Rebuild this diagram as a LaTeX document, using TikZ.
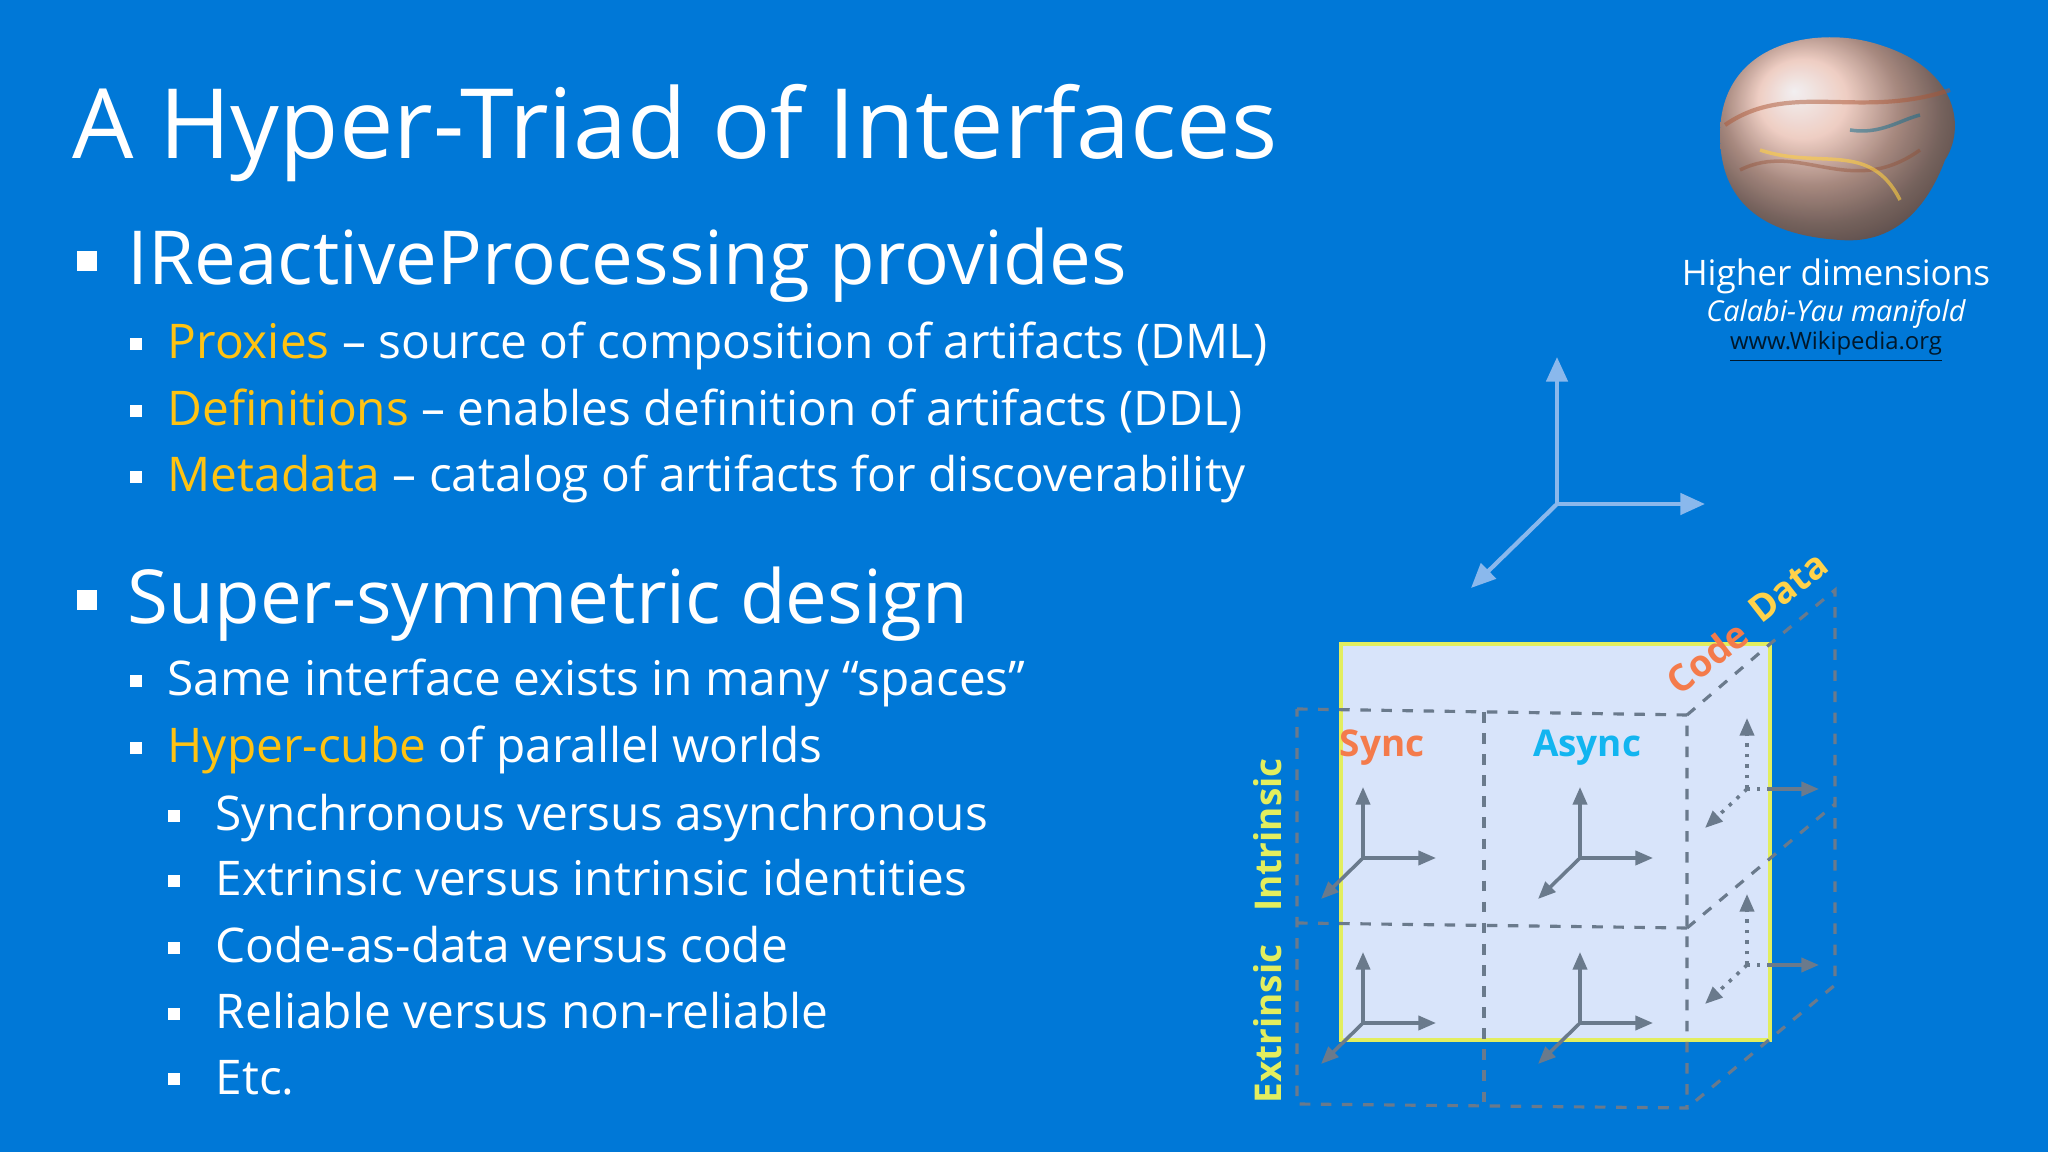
\documentclass[tikz,border=0pt]{standalone}
\usepackage{fontspec}
\setmainfont{Open Sans}
\usetikzlibrary{arrows.meta, positioning}
\definecolor{slideblue}{HTML}{0078D7}
\definecolor{hilite}{HTML}{FFC312}
\definecolor{syncc}{HTML}{F47B4B}
\definecolor{asyncc}{HTML}{12B5F0}
\definecolor{axisc}{HTML}{8AB8EC}
\definecolor{facec}{HTML}{D8E4FA}
\definecolor{greenyel}{HTML}{E3EE5E}
\definecolor{datac}{HTML}{FFD24A}
\definecolor{gridc}{HTML}{6A7A8C}

\begin{document}
\begin{tikzpicture}[x=0.1mm,y=-0.1mm,
    txt/.style={anchor=base west, inner sep=0pt, text=white},
    lone/.style={txt, font=\fontsize{21.2}{24}\selectfont},
    ltwo/.style={txt, font=\fontsize{13.6}{16}\selectfont},
    bul/.style={fill=white, minimum size=#1, inner sep=0pt},
    grid/.style={draw=gridc, dashed, line width=0.9pt},
    ax/.style={draw=gridc, line width=1pt, -{Triangle[length=5pt,width=4pt]}},
    axd/.style={ax, dotted},
    big/.style={draw=axisc, line width=1.2pt, -{Triangle[length=7pt,width=6pt]}},
    lab/.style={inner sep=0pt, font=\bfseries\fontsize{10.5}{12}\selectfont}]
  \fill[slideblue] (0,0) rectangle (2048,1152);
  \useasboundingbox (0,0) rectangle (2048,1152);

  % title and bullets
  \node[txt, font=\fontsize{27.6}{32}\selectfont] (title) at (72,159) {A Hyper-Triad of Interfaces};
  \node[lone] (ireact) at (127,285) {IReactiveProcessing provides};
  \node[ltwo] (prox) at (167,359) {\textcolor{hilite}{Proxies} – source of composition of artifacts (DML)};
  \node[ltwo] (defs) at (167,426) {\textcolor{hilite}{Definitions} – enables definition of artifacts (DDL)};
  \node[ltwo] (meta) at (167,492) {\textcolor{hilite}{Metadata} – catalog of artifacts for discoverability};
  \node[lone] (susy) at (127,624) {Super-symmetric design};
  \node[ltwo] (same) at (167,696) {Same interface exists in many “spaces”};
  \node[ltwo] (hyper) at (167,763) {\textcolor{hilite}{Hyper-cube} of parallel worlds};
  \node[ltwo] (syn) at (215,831) {Synchronous versus asynchronous};
  \node[ltwo] (ext) at (215,896) {Extrinsic versus intrinsic identities};
  \node[ltwo] (cad) at (215,963) {Code-as-data versus code};
  \node[ltwo] (rel) at (215,1029) {Reliable versus non-reliable};
  \node[ltwo] (etc) at (215,1094) {Etc.};
  \foreach \y in {285,624} \node[bul=5.5pt] at (87,\y-24) {};
  \foreach \y in {359,426,492,696,763} \node[bul=3.6pt] at (136,\y-15) {};
  \foreach \y in {831,896,963,1029,1094} \node[bul=3.6pt] at (174,\y-15) {};

  % manifold picture
  \shade[ball color=syncc!45!white, opacity=0.95]
    (1720,135) .. controls (1720,40) and (1820,25) .. (1880,45)
    .. controls (1960,70) and (1965,130) .. (1945,160)
    .. controls (1930,200) and (1900,245) .. (1840,240)
    .. controls (1760,235) and (1720,200) .. (1720,135);
  \draw[syncc!70!black, line width=1.2pt, opacity=0.5] (1725,125) .. controls (1790,80) and (1860,120) .. (1950,90);
  \draw[syncc!60!black, line width=1pt, opacity=0.4] (1740,170) .. controls (1800,140) and (1850,200) .. (1920,150);
  \draw[hilite!80!white, line width=1pt, opacity=0.6] (1760,150) .. controls (1820,170) and (1870,140) .. (1900,200);
  \draw[asyncc!60!black, line width=1pt, opacity=0.5] (1850,130) .. controls (1880,135) and (1900,120) .. (1920,115);
  \node[txt, anchor=base, font=\fontsize{10}{12}\selectfont] (hd) at (1836,286) {Higher dimensions};
  \node[txt, anchor=base, font=\fontsize{8.2}{10}\selectfont\itshape] (cy) at (1836,322) {Calabi-Yau manifold};
  \node[txt, anchor=base, text=black!80!slideblue, font=\fontsize{6.8}{8}\selectfont] (wiki) at (1836,350) {\underline{www.Wikipedia.org}};

  % big axes
  \coordinate (o) at (1557,504);
  \coordinate (oy) at (1557,357);
  \coordinate (ox) at (1705,504);
  \coordinate (oz) at (1471,588);
  \draw[big] (o) -- (oy);
  \draw[big] (o) -- (ox);
  \draw[big] (o) -- (oz);

  % cube
  \fill[facec, draw=greenyel, line width=1pt] (1341,644) rectangle (1770,1040);
  \coordinate (b1) at (1297,709); \coordinate (b2) at (1687,715);
  \coordinate (b3) at (1297,1104); \coordinate (b4) at (1687,1108);
  \coordinate (bh) at (1297,923); \coordinate (bk) at (1687,928);
  \coordinate (f2) at (1770,644);
  \coordinate (r2) at (1835,590); \coordinate (rk) at (1835,804);
  \coordinate (r4) at (1835,985);
  \draw[grid] (b1) -- (b2) -- (b4) -- (b3) -- cycle;
  \draw[grid] (bh) -- (bk);
  \draw[grid] (1484,712) -- (1484,1106);
  \draw[grid] (b2) -- (f2) -- (r2) -- (r4) -- (b4);
  \draw[grid] (bk) -- (rk);

  % small axes in the cells
  \foreach \ox/\oy in {1363/858, 1580/858, 1363/1023, 1580/1023} {
    \draw[ax] (\ox,\oy) -- (\ox,\oy-71);
    \draw[ax] (\ox,\oy) -- (\ox+73,\oy);
    \draw[ax] (\ox,\oy) -- (\ox-42,\oy+41);
  }
  \foreach \oy in {789, 965} {
    \draw[axd] (1747,\oy) -- (1747,\oy-71);
    \draw[axd] (1747,\oy) -- (1705,\oy+39);
    \draw[grid, dotted] (1747,\oy) -- (1770,\oy);
    \draw[ax] (1770,\oy) -- (1819,\oy);
  }

  % labels
  \node[lab, text=syncc] (sync) at (1382,748) {Sync};
  \node[lab, text=asyncc] (async) at (1587,748) {Async};
  \node[lab, text=syncc, rotate=38] (code) at (1707,657) {Code};
  \node[lab, text=datac, rotate=38] (data) at (1788,587) {Data};
  \node[lab, text=greenyel, rotate=90] (intr) at (1268,835) {Intrinsic};
  \node[lab, text=greenyel, rotate=90] (extr) at (1268,1024) {Extrinsic};
\end{tikzpicture}
\end{document}
